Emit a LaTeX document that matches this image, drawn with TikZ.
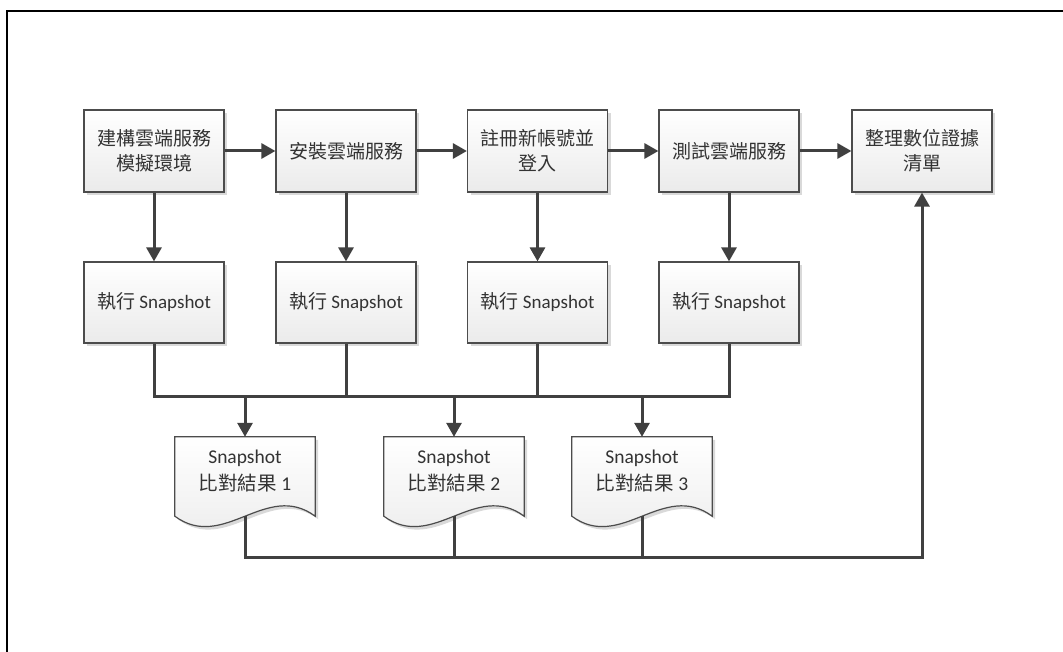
\documentclass[tikz,border=0pt]{standalone}
\usepackage{fontspec}
\setmainfont{Carlito}
\newfontfamily\cjk{Noto Sans CJK TC}
\usetikzlibrary{arrows.meta,shadows,calc}
\pgfdeclarelayer{background}
\pgfsetlayers{background,main}

% document shape behind a named node, wavy bottom
\newcommand\docshape[1]{%
\fill[black!15] ($(#1.north west)+(3,3)$) -- ($(#1.north east)+(3,3)$) -- ($(#1.south east)+(3,13)$) .. controls +(-49,-36) and +(49,36) .. ($(#1.south west)+(3,13)$) -- cycle;
\shade[top color=white, bottom color=black!8, draw=black!70, line width=1.2pt] (#1.north west) -- (#1.north east) -- ($(#1.south east)+(0,10)$) .. controls +(-49,-36) and +(49,36) .. ($(#1.south west)+(0,10)$) -- cycle;}

\begin{document}
\begin{tikzpicture}[x=1pt, y=-1pt,
  box/.style={draw=black!70, line width=1.2pt, top color=white, bottom color=black!8,
    minimum width=140pt, minimum height=82pt, align=center, text=black!80,
    font=\fontsize{19}{25}\selectfont,
    drop shadow={shadow xshift=3pt, shadow yshift=-3pt, fill=black!15, opacity=1}},
  doc/.style={minimum width=140pt, minimum height=69pt, inner sep=0pt, align=center,
    text=black!80, font=\fontsize{19.5}{27}\selectfont},
  line/.style={draw=black!75, line width=3pt},
  arrow/.style={line, -{Triangle[length=14pt,width=15pt]}}]
\useasboundingbox (0,0) rectangle (1063,652);
\draw[line width=2pt] (7,652) -- (7,11) -- (1063,11);

% first row
\node[box] (B_1) at (154,151) {{\cjk 建構雲端服務}\\{\cjk 模擬環境}};
\node[box] (B_2) at (346,151) {{\cjk 安裝雲端服務}};
\node[box] (B_3) at (537.5,151) {{\cjk 註冊新帳號並}\\{\cjk 登入}};
\node[box] (B_4) at (729,151) {{\cjk 測試雲端服務}};
\node[box] (B_5) at (922,151) {{\cjk 整理數位證據}\\{\cjk 清單}};
\draw[arrow] (B_1.east) -- (B_2.west);
\draw[arrow] (B_2.east) -- (B_3.west);
\draw[arrow] (B_3.east) -- (B_4.west);
\draw[arrow] (B_4.east) -- (B_5.west);

% snapshots
\node[box, minimum height=81pt] (S_1) at (154,302.5) {{\cjk 執行} Snapshot};
\node[box, minimum height=81pt] (S_2) at (346,302.5) {{\cjk 執行} Snapshot};
\node[box, minimum height=81pt] (S_3) at (537.5,302.5) {{\cjk 執行} Snapshot};
\node[box, minimum height=81pt] (S_4) at (729,302.5) {{\cjk 執行} Snapshot};
\draw[arrow] (B_1.south) -- (S_1.north);
\draw[arrow] (B_2.south) -- (S_2.north);
\draw[arrow] (B_3.south) -- (S_3.north);
\draw[arrow] (B_4.south) -- (S_4.north);

% compare results
\node[doc] (D_1) at (245,471.5) {Snapshot\\{\cjk 比對結果} 1};
\node[doc] (D_2) at (454,471.5) {Snapshot\\{\cjk 比對結果} 2};
\node[doc] (D_3) at (642,471.5) {Snapshot\\{\cjk 比對結果} 3};
\begin{pgfonlayer}{background}
\docshape{D_1}
\docshape{D_2}
\docshape{D_3}
\end{pgfonlayer}
\coordinate (W_1) at ($(D_1.south)+(0,10)$);
\coordinate (W_2) at ($(D_2.south)+(0,10)$);
\coordinate (W_3) at ($(D_3.south)+(0,10)$);

% upper bus
\coordinate (bus) at (0,396);
\draw[line] (S_1.south) |- (S_4.south |- bus) -- (S_4.south);
\draw[line] (S_2.south) -- (S_2.south |- bus);
\draw[line] (S_3.south) -- (S_3.south |- bus);
\draw[arrow] (D_1.north |- bus) -- (D_1.north);
\draw[arrow] (D_2.north |- bus) -- (D_2.north);
\draw[arrow] (D_3.north |- bus) -- (D_3.north);

% lower bus
\coordinate (bus2) at (0,557);
\draw[arrow] (W_1) |- (B_5.south |- bus2) -- (B_5.south);
\draw[line] (W_2) -- (W_2 |- bus2);
\draw[line] (W_3) -- (W_3 |- bus2);
\end{tikzpicture}
\end{document}
